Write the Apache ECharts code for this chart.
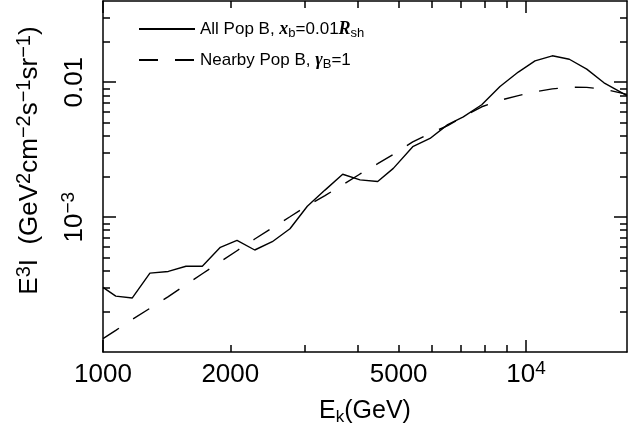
<!DOCTYPE html>
<html>
<head>
<meta charset="utf-8">
<script src="https://cdn.jsdelivr.net/npm/echarts@6/dist/echarts.min.js"></script>
<style>
  html, body { margin: 0; padding: 0; background: #fff; }
  #chart { width: 628px; height: 431px; }
</style>
</head>
<body>
<div id="chart"></div>
<script>
// energies in GeV, shared by both curves
var energies = [1000, 1072, 1173, 1291, 1427, 1571, 1717, 1894, 2074, 2284, 2513, 2767, 3041, 3348, 3687, 4052,
    4461, 4857, 5398, 5930, 6530, 7110, 7859, 8680, 9590, 10503, 11540, 12660, 13920, 15290, 17330];

var allPopB = [3.02e-4, 2.60e-4, 2.52e-4, 3.85e-4, 3.96e-4, 4.33e-4, 4.33e-4, 5.98e-4, 6.73e-4, 5.71e-4, 6.58e-4,
    8.20e-4, 1.205e-3, 1.587e-3, 2.08e-3, 1.89e-3, 1.84e-3, 2.30e-3, 3.33e-3, 3.83e-3, 4.85e-3, 5.53e-3, 6.81e-3,
    9.3e-3, 1.19e-2, 1.44e-2, 1.57e-2, 1.48e-2, 1.25e-2, 9.9e-3, 7.96e-3];

var nearbyPopB = [1.26e-4, 1.45e-4, 1.75e-4, 2.11e-4, 2.58e-4, 3.16e-4, 3.81e-4, 4.67e-4, 5.64e-4, 6.89e-4, 8.33e-4,
    1.007e-3, 1.216e-3, 1.445e-3, 1.738e-3, 2.09e-3, 2.49e-3, 2.92e-3, 3.61e-3, 4.17e-3, 4.77e-3, 5.56e-3, 6.58e-3,
    7.35e-3, 7.96e-3, 8.50e-3, 8.93e-3, 9.18e-3, 9.16e-3, 8.89e-3, 8.12e-3];

var xLabelValues = [1000, 2000, 5000, 10000];
var xMajorTicks = [1000, 10000];
var xMinorTicks = [2000, 3000, 4000, 5000, 6000, 7000, 8000, 9000];
var yLabelValues = [0.001, 0.01];
var yMajorTicks = [0.001, 0.01];
var yMinorTicks = [2e-4, 3e-4, 4e-4, 5e-4, 6e-4, 7e-4, 8e-4, 9e-4,
    2e-3, 3e-3, 4e-3, 5e-3, 6e-3, 7e-3, 8e-3, 9e-3, 0.02, 0.03];

var font = 'Liberation Sans';
var black = '#000';

var chart = echarts.init(document.getElementById('chart'));

function pairs(ys) {
    return energies.map(function (e, i) { return [e, ys[i]]; });
}

var supStyle = { fontFamily: font, fontSize: 19, lineHeight: 17, verticalAlign: 'top', color: black };
var subStyle = { fontFamily: font, fontSize: 17, lineHeight: 17, verticalAlign: 'bottom', color: black };

function xAx(position, ticks, len, main) {
    return {
        type: 'log', position: position, min: 1000, max: 17330,
        axisLine: { show: main, onZero: false, lineStyle: { color: black, width: 1.5 } },
        axisTick: { show: true, inside: true, length: len, customValues: ticks, lineStyle: { color: black, width: 1.5 } },
        axisLabel: {
            show: main && position === 'bottom', customValues: xLabelValues,
            margin: 7, fontFamily: font, fontSize: 26, lineHeight: 32, color: black,
            rich: { sup: supStyle },
            formatter: function (v) { return v === 10000 ? '10{sup|4}' : String(v); }
        },
        splitLine: { show: false },
        name: main && position === 'bottom' ? 'E{sub|k}(GeV)' : '',
        nameLocation: 'middle', nameGap: 38,
        nameTextStyle: { fontFamily: font, fontSize: 25, lineHeight: 30, color: black, rich: { sub: subStyle } }
    };
}

function yAx(position, ticks, len, main) {
    return {
        type: 'log', position: position, min: 1e-4, max: 0.04,
        axisLine: { show: main, onZero: false, lineStyle: { color: black, width: 1.5 } },
        axisTick: { show: true, inside: true, length: len, customValues: ticks, lineStyle: { color: black, width: 1.5 } },
        axisLabel: {
            show: main && position === 'left', customValues: yLabelValues, rotate: 90,
            margin: 12, fontFamily: font, fontSize: 26, lineHeight: 32, color: black,
            rich: { sup: supStyle },
            formatter: function (v) { return v < 0.005 ? '10{sup|\u22123}' : '0.01'; }
        },
        splitLine: { show: false },
        name: main && position === 'left' ? 'E{sup|3}I  (GeV{sup|2}cm{sup|\u22122}s{sup|\u22121}sr{sup|\u22121})' : '',
        nameLocation: 'middle', nameGap: 57,
        nameTextStyle: {
            fontFamily: font, fontSize: 26, lineHeight: 32, color: black, padding: [0, 0, 0, 32],
            rich: { sup: { fontFamily: font, fontSize: 20, lineHeight: 19, verticalAlign: 'top', color: black } }
        }
    };
}

var legendRich = {
    it: { fontFamily: 'Liberation Serif', fontStyle: 'italic', fontWeight: 'bold', fontSize: 18, lineHeight: 22, color: black },
    sub: { fontFamily: font, fontSize: 13, lineHeight: 12, verticalAlign: 'bottom', color: black }
};

var option = {
    animation: false,
    backgroundColor: '#fff',
    grid: { left: 103, right: 1, top: 1, bottom: 77, containLabel: false },
    legend: {
        orient: 'vertical', left: 133, top: 13,
        itemWidth: 56, itemHeight: 14, itemGap: 9,
        data: ['All Pop B', 'Nearby Pop B'],
        itemStyle: { color: 'rgba(0,0,0,0)', borderWidth: 0, opacity: 0 },
        textStyle: { fontFamily: font, fontSize: 17, lineHeight: 22, color: black, rich: legendRich },
        formatter: function (name) {
            if (name === 'All Pop B') return 'All Pop B, {it|x}{sub|b}=0.01{it|R}{sub|sh}';
            return 'Nearby Pop B, {it|\u03b3}{sub|B}=1';
        }
    },
    xAxis: [
        xAx('bottom', xMajorTicks, 12, true),
        xAx('bottom', xMinorTicks, 7, false),
        xAx('top', xMajorTicks, 12, true),
        xAx('top', xMinorTicks, 7, false)
    ],
    yAxis: [
        yAx('left', yMajorTicks, 13, true),
        yAx('left', yMinorTicks, 7, false),
        yAx('right', yMajorTicks, 13, true),
        yAx('right', yMinorTicks, 7, false)
    ],
    series: [
        {
            name: 'All Pop B', type: 'line', xAxisIndex: 0, yAxisIndex: 0,
            data: pairs(allPopB), symbol: 'none',
            itemStyle: { color: black },
            lineStyle: { color: black, width: 1.4 }
        },
        {
            name: 'Nearby Pop B', type: 'line', xAxisIndex: 0, yAxisIndex: 0,
            data: pairs(nearbyPopB), symbol: 'none',
            itemStyle: { color: black },
            lineStyle: { color: black, width: 1.4, type: [19, 17] }
        }
    ]
};

chart.setOption(option);
</script>
</body>
</html>
